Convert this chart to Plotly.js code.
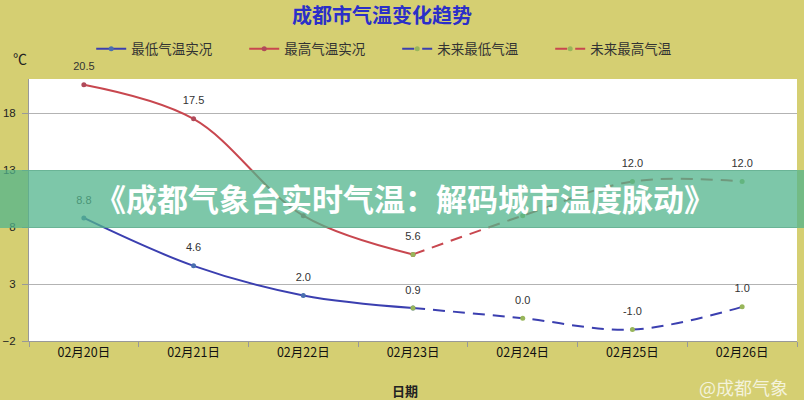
<!DOCTYPE html>
<html>
<head>
<meta charset="utf-8">
<script src="https://cdn.plot.ly/plotly-3.0.1.min.js"></script>
<style>html,body{margin:0;padding:0;background:#d5cf72;}#chart{width:804px;height:400px;}</style>
</head>
<body>
<div id="chart"></div>
<script>
const dates = ['02月20日','02月21日','02月22日','02月23日','02月24日','02月25日','02月26日'];
const lowActual  = [8.8, 4.6, 2.0, 0.9, null, null, null];
const highActual = [20.5, 17.5, 9.0, 5.6, null, null, null];
const lowFuture  = [null, null, null, 0.9, 0.0, -1.0, 1.0];
const highFuture = [null, null, null, 5.6, 9.0, 12.0, 12.0];
const yTicks = [-2, 3, 8, 13, 18];
const seriesNames = ['最低气温实况','最高气温实况','未来最低气温','未来最高气温'];

const CJK = '"Noto Sans CJK SC", "Liberation Sans", sans-serif';
const NUM = '"Liberation Sans", "DejaVu Sans", sans-serif';

// labels hidden under the banner in the reference are left blank
function labels(arr, skip) {
  return arr.map((v, i) => (v === null || skip.indexOf(i) >= 0) ? '' : v.toFixed(1));
}

const blue = '#3b3fb0';
const red = '#c8474f';
const futMarker = '#98b65a';

function lineTrace(y, name, color, marker, dash) {
  return {x: dates, y: y, name: name, mode: 'lines+markers',
    line: {color: color, width: 2, shape: 'spline', smoothing: 1, dash: dash || 'solid'},
    marker: {size: 5, color: marker}, cliponaxis: false};
}
function textTrace(y, txt) {
  return {x: dates, y: y, mode: 'markers+text', showlegend: false, hoverinfo: 'skip',
    marker: {size: 17, color: 'rgba(0,0,0,0)'}, text: txt, textposition: 'top center',
    textfont: {family: NUM, size: 11, color: '#333'}, cliponaxis: false};
}

const traces = [
  lineTrace(lowActual, seriesNames[0], blue, '#4a6fb0'),
  lineTrace(highActual, seriesNames[1], red, '#b04a5a'),
  lineTrace(lowFuture, seriesNames[2], blue, futMarker, '12px,8px'),
  lineTrace(highFuture, seriesNames[3], red, futMarker, '12px,8px'),
  textTrace(lowActual, labels(lowActual, [])),
  textTrace(highActual, labels(highActual, [2])),
  textTrace(lowFuture, labels(lowFuture, [3])),
  textTrace(highFuture, labels(highFuture, [3, 4]))
];

const layout = {
  width: 804, height: 400,
  margin: {l: 29, r: 7, t: 79, b: 59},
  paper_bgcolor: '#d5cf72',
  plot_bgcolor: '#ffffff',
  title: {text: '<b>成都市气温变化趋势</b>', font: {family: CJK, size: 20, color: '#2b2fc8'},
          x: (382-29)/768, xanchor: 'center', xref: 'paper', y: 1 - 16/400, yanchor: 'middle'},
  showlegend: true,
  legend: {orientation: 'h', x: 0.081, xanchor: 'left', y: (341-49)/262, yanchor: 'middle',
           bgcolor: 'rgba(0,0,0,0)', font: {family: CJK, size: 13.5, color: '#333'},
           entrywidth: 108, entrywidthmode: 'pixels', itemwidth: 30},
  xaxis: {type: 'category', range: [-0.5, 6.5], showgrid: false, showline: true,
          linecolor: '#999', linewidth: 1, ticks: 'outside', tickson: 'boundaries',
          ticklen: 5, tickcolor: '#999', zeroline: false,
          tickfont: {family: CJK, size: 12.5, color: '#111'}},
  yaxis: {range: [-2, 21], tickvals: yTicks, showgrid: true, gridcolor: '#b3b3b3', gridwidth: 1,
          showline: true, linecolor: '#999', ticks: 'outside', ticklen: 6, tickcolor: '#999',
          ticklabelstandoff: 4,
          zeroline: false, tickfont: {family: NUM, size: 11.5, color: '#222'}},
  shapes: [
    {type: 'rect', xref: 'paper', yref: 'paper', x0: -29/768, x1: 775/768,
     y0: (341-228)/262, y1: (341-170)/262, fillcolor: 'rgba(82,180,140,0.75)',
     line: {width: 0}, layer: 'above'}
  ],
  annotations: [
    {text: '℃', xref: 'paper', yref: 'paper', x: -9/768, y: (341-58)/262, showarrow: false,
     font: {family: CJK, size: 14, color: '#222'}, xanchor: 'center', yanchor: 'middle'},
    {text: '<b>日期</b>', xref: 'paper', yref: 'paper', x: (405-29)/768, y: (341-390)/262,
     showarrow: false, font: {family: CJK, size: 13, color: '#222'}, yanchor: 'middle'},
    {text: '<b>《成都气象台实时气温：解码城市温度脉动》</b>', xref: 'paper', yref: 'paper',
     x: (405-29)/768, y: (341-197)/262, showarrow: false, xanchor: 'center', yanchor: 'middle',
     font: {family: CJK, size: 31, color: '#ffffff'}},
    {text: '@成都气象', xref: 'paper', yref: 'paper', x: (743-29)/768, y: (341-387)/262,
     showarrow: false, xanchor: 'center', yanchor: 'middle',
     font: {family: CJK, size: 18, color: 'rgba(255,255,255,0.75)'}}
  ]
};

Plotly.newPlot('chart', traces, layout, {displayModeBar: false, staticPlot: true});
</script>
</body>
</html>
